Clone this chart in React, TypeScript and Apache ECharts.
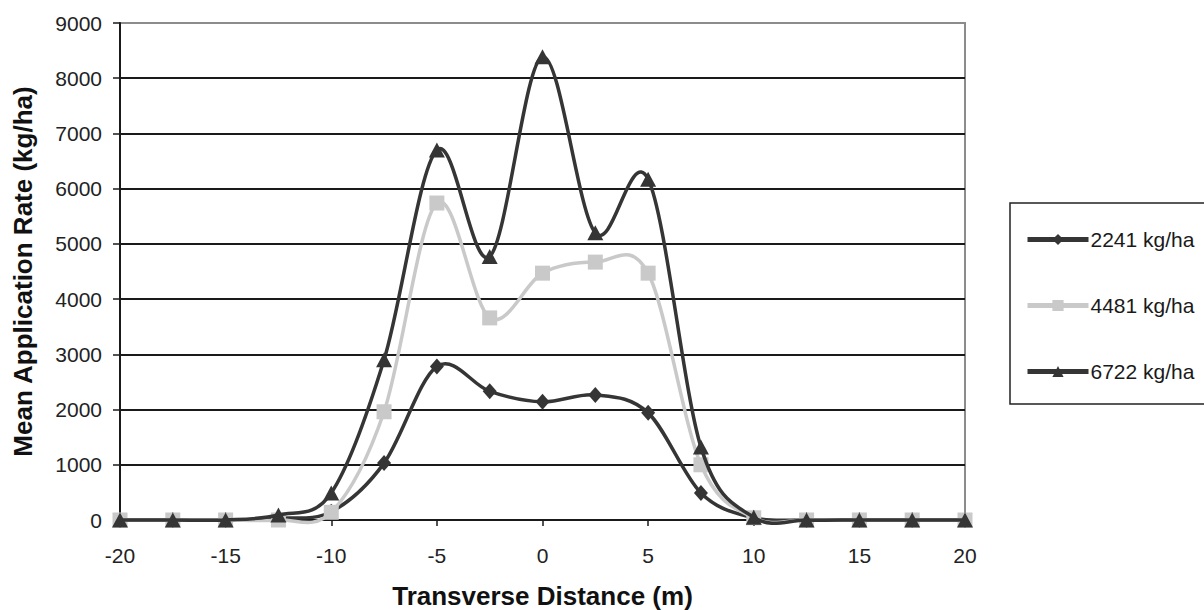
import React, { useEffect, useRef } from "react";
import * as echarts from "echarts";

const xValues = [-20, -17.5, -15, -12.5, -10, -7.5, -5, -2.5, 0, 2.5, 5, 7.5, 10, 12.5, 15, 17.5, 20];
const rate2241 = [0, 0, 0, 30, 150, 1030, 2780, 2330, 2140, 2265, 1940, 490, 40, 0, 0, 0, 0];
const rate4481 = [0, 0, 0, 0, 140, 1960, 5740, 3660, 4470, 4670, 4470, 1000, 40, 0, 0, 0, 0];
const rate6722 = [0, 0, 0, 90, 490, 2900, 6700, 4770, 8390, 5200, 6170, 1320, 50, 0, 0, 0, 0];
const seriesNames = ["2241 kg/ha", "4481 kg/ha", "6722 kg/ha"];

const DARK = "#353535";
const LIGHT = "#c9c9c9";
const FONT = "Liberation Sans, Arial, sans-serif";

function pairs(ys: number[]) {
  return xValues.map((x, i) => [x, ys[i]]);
}

function curveSeries(ys: number[], color: string, z: number) {
  const n = xValues.length;
  return {
    type: "custom",
    name: "curve " + z,
    data: pairs(ys),
    encode: { x: 0, y: 1 },
    z,
    silent: true,
    clip: false,
    renderItem: (params: any, api: any) => {
      const i = params.dataIndex;
      if (i >= n - 1) return null;
      const c = (k: number) => {
        const kk = Math.max(0, Math.min(n - 1, k));
        return api.coord([xValues[kk], ys[kk]]);
      };
      const p0 = c(i - 1);
      const p1 = c(i);
      const p2 = c(i + 1);
      const p3 = c(i + 2);
      const t = 6;
      return {
        type: "bezierCurve",
        shape: {
          x1: p1[0],
          y1: p1[1],
          x2: p2[0],
          y2: p2[1],
          cpx1: p1[0] + (p2[0] - p0[0]) / t,
          cpy1: p1[1] + (p2[1] - p0[1]) / t,
          cpx2: p2[0] - (p3[0] - p1[0]) / t,
          cpy2: p2[1] - (p3[1] - p1[1]) / t,
        },
        style: { stroke: color, lineWidth: 3.5, fill: null, lineCap: "round" },
      };
    },
  };
}

export default function App() {
  const ref = useRef<HTMLDivElement>(null);
  useEffect(() => {
    if (!ref.current) return;
    const chart = echarts.init(ref.current, null, { renderer: "svg" });
    const gridColors = ["#1a1a1a", "#1a1a1a", "#1a1a1a", "#1a1a1a", "#1a1a1a", "#1a1a1a", "#1a1a1a", "#1a1a1a", "#1a1a1a", "#8c8c8c"];
    chart.setOption({
      animation: false,
      backgroundColor: "#ffffff",
      textStyle: { fontFamily: FONT },
      grid: {
        left: 120,
        right: 239,
        top: 23,
        bottom: 90,
        show: true,
        borderColor: "#8c8c8c",
        borderWidth: 2,
        containLabel: false,
        outerBoundsMode: "none",
      },
      legend: {
        orient: "vertical",
        left: 1010,
        top: 203,
        data: seriesNames,
        itemWidth: 61,
        itemHeight: 14,
        itemGap: 45,
        padding: [26, 14, 22, 15],
        borderColor: "#222222",
        borderWidth: 1.5,
        borderRadius: 0,
        backgroundColor: "#ffffff",
        textStyle: { fontFamily: FONT, fontSize: 21, color: "#1a1a1a", padding: [0, 0, 0, -3] },
        lineStyle: { width: 5, opacity: 1 },
      },
      xAxis: {
        type: "value",
        min: -20,
        max: 20,
        interval: 5,
        name: "Transverse Distance (m)",
        nameLocation: "middle",
        nameGap: 63,
        nameTextStyle: { fontFamily: FONT, fontSize: 26, fontWeight: "bold", color: "#111111" },
        axisLine: { show: true, onZero: false, lineStyle: { color: "#1a1a1a", width: 2 } },
        axisTick: { show: true, inside: false, length: 6, lineStyle: { color: "#1a1a1a", width: 1.5 } },
        axisLabel: { fontFamily: FONT, fontSize: 21, color: "#222222", margin: 25 },
        splitLine: { show: false },
      },
      yAxis: {
        type: "value",
        min: 0,
        max: 9000,
        interval: 1000,
        name: "Mean Application Rate (kg/ha)",
        nameLocation: "middle",
        nameGap: 84,
        nameTextStyle: { fontFamily: FONT, fontSize: 26, fontWeight: "bold", color: "#111111" },
        axisLine: { show: true, onZero: false, lineStyle: { color: "#1a1a1a", width: 2 } },
        axisTick: { show: true, inside: false, length: 7, lineStyle: { color: "#1a1a1a", width: 1.5 } },
        axisLabel: { fontFamily: FONT, fontSize: 21, color: "#222222", margin: 18, formatter: (v: number) => String(v) },
        splitLine: { show: true, lineStyle: { color: gridColors, width: 2 } },
      },
      series: [
        curveSeries(rate2241, DARK, 2),
        {
          name: seriesNames[0],
          type: "line",
          data: pairs(rate2241),
          symbol: "diamond",
          symbolSize: [14, 16],
          lineStyle: { color: DARK, width: 0 },
          itemStyle: { color: DARK },
          z: 3,
        },
        curveSeries(rate4481, LIGHT, 4),
        {
          name: seriesNames[1],
          type: "line",
          data: pairs(rate4481),
          symbol: "rect",
          symbolSize: 15,
          lineStyle: { color: LIGHT, width: 0 },
          itemStyle: { color: LIGHT },
          z: 5,
        },
        curveSeries(rate6722, DARK, 6),
        {
          name: seriesNames[2],
          type: "line",
          data: pairs(rate6722),
          symbol: "triangle",
          symbolSize: [16, 15],
          lineStyle: { color: DARK, width: 0 },
          itemStyle: { color: DARK },
          z: 7,
        },
      ],
    });
    return () => chart.dispose();
  }, []);
  return <div ref={ref} style={{ position: "absolute", left: 0, top: 0, width: 1204, height: 610 }} />;
}
